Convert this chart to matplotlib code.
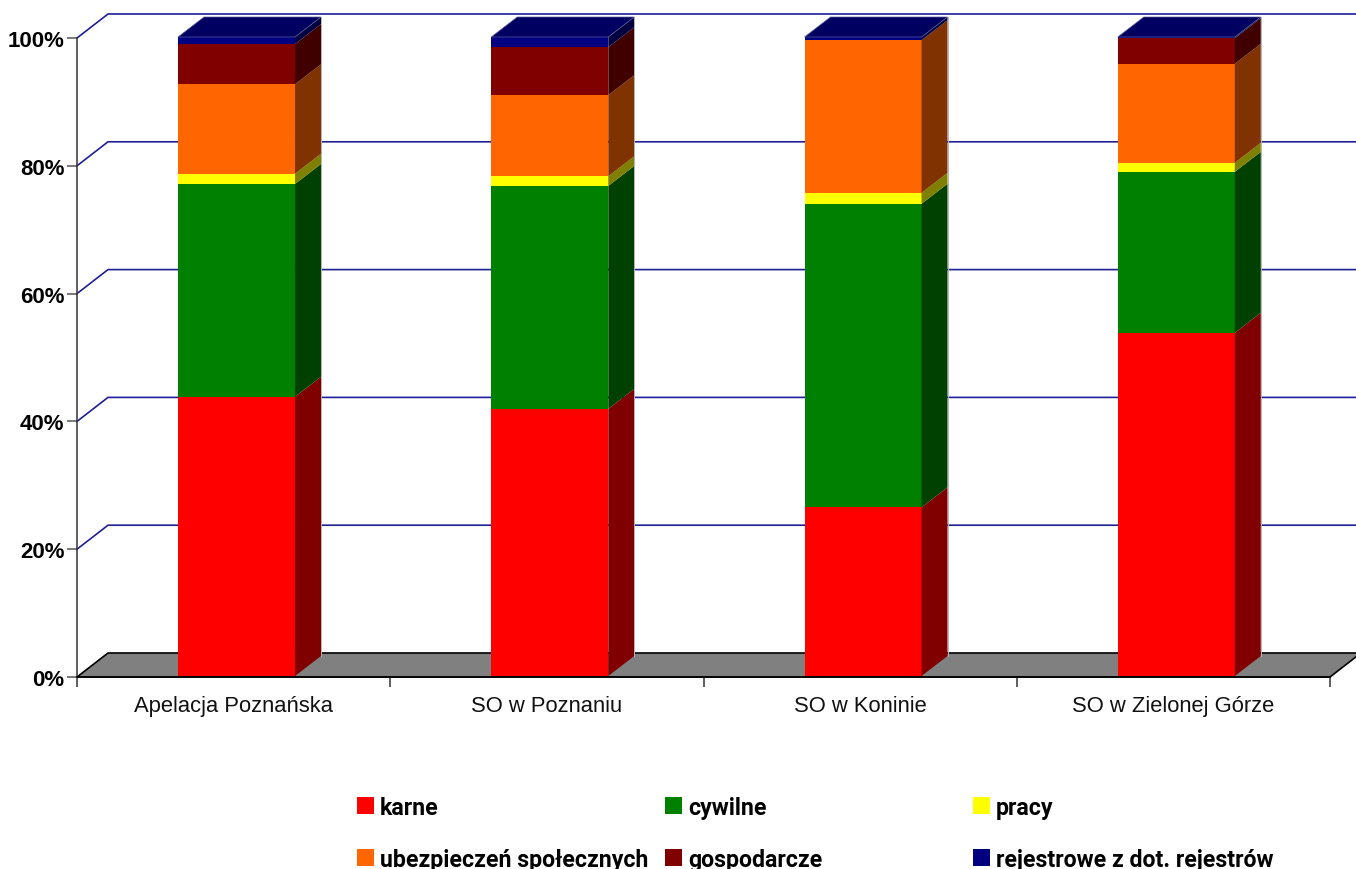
import matplotlib
matplotlib.use('Agg')
import matplotlib.pyplot as plt
import numpy as np
from matplotlib.patches import Polygon, Rectangle

# values, percent share per court
categories = ['Apelacja Poznańska', 'SO w Poznaniu', 'SO w Koninie', 'SO w Zielonej Górze']
karne = [43.7, 41.8, 26.4, 53.7]
cywilne = [33.3, 34.9, 47.5, 25.2]
pracy = [1.6, 1.5, 1.7, 1.4]
ubezpieczen = [14.0, 12.7, 23.9, 15.5]
gospodarcze = [6.3, 7.5, 0.0, 4.0]
rejestrowe = [1.1, 1.6, 0.5, 0.2]

series_names = ['karne', 'cywilne', 'pracy', 'ubezpieczeń społecznych', 'gospodarcze',
                'rejestrowe z dot. rejestrów']
series_vals = [karne, cywilne, pracy, ubezpieczen, gospodarcze, rejestrowe]
front_cols = ['#ff0000', '#008000', '#ffff00', '#ff6600', '#800000', '#000080']
side_cols = ['#800000', '#004000', '#808000', '#803300', '#400000', '#000040']
y_ticks = [0, 20, 40, 60, 80, 100]

W, H = 1356, 870
LEFT, RIGHT, Y0, Y100 = 77, 1330, 678, 39
GRID_COL = '#1f1f96'
SANS = ['Liberation Sans']
LEG_FONT = ['Roboto', 'Liberation Sans']

fig = plt.figure(figsize=(W / 100, H / 100), dpi=100)
ax = fig.add_axes([LEFT / W, (H - Y0) / H, (RIGHT - LEFT) / W, (Y0 - Y100) / H])
ax.set_xlim(0, 4)
ax.set_ylim(0, 100)

# pixel -> data helpers for the fake 3D offsets
px_x = 4 / (RIGHT - LEFT)
px_y = 100 / (Y0 - Y100)
wall_dx, wall_dy = 31 * px_x, 24 * px_y
bar_dx, bar_dy = 26 * px_x, 20 * px_y
bar_w = 117 * px_x
bar_shift = 2.9 * px_x
bar_lift = 1 * px_y

# floor
ax.add_patch(Polygon([(0, 0), (wall_dx, wall_dy), (4 + wall_dx, wall_dy), (4, 0)],
                     closed=True, fc='#808080', ec='black', lw=1.2, clip_on=False, zorder=1))

# back wall grid
for v in y_ticks[1:]:
    ax.plot([0, wall_dx, 4 + wall_dx], [v, v + wall_dy, v + wall_dy], color=GRID_COL, lw=1.2,
            clip_on=False, zorder=1, solid_joinstyle='miter')

x_pos = np.arange(4) + 0.5 - bar_w / 2 + bar_shift
bottoms = np.full(4, bar_lift)
for vals, fc, sc in zip(series_vals, front_cols, side_cols):
    vals = np.array(vals)
    ax.bar(x_pos, vals, width=bar_w, bottom=bottoms, align='edge', color=fc, lw=0,
           clip_on=False, zorder=3)
    for x, b, v in zip(x_pos, bottoms, vals):
        xr = x + bar_w
        ax.add_patch(Polygon([(xr, b), (xr + bar_dx, b + bar_dy), (xr + bar_dx, b + v + bar_dy), (xr, b + v)],
                             closed=True, fc=sc, lw=0, clip_on=False, zorder=3))
    bottoms = bottoms + vals

# bar caps and the pale right edge of each bar
for x, b in zip(x_pos, bottoms):
    ax.add_patch(Polygon([(x, b), (x + bar_dx, b + bar_dy), (x + bar_w + bar_dx, b + bar_dy), (x + bar_w, b)],
                         closed=True, fc='#000060', ec='#5a5a9a', lw=0.5, clip_on=False, zorder=4))
    ax.plot([x + bar_w + bar_dx] * 2, [bar_lift + bar_dy, b + bar_dy], color='#b5b5b5', lw=0.7,
            clip_on=False, zorder=3)

for s in ['top', 'right']:
    ax.spines[s].set_visible(False)
ax.spines['left'].set_color('#333333')
ax.spines['left'].set_linewidth(1.1)
ax.spines['bottom'].set_color('black')
ax.spines['bottom'].set_linewidth(1.1)
ax.set_zorder(2)
ax.patch.set_visible(False)

ax.set_yticks(y_ticks)
ax.set_yticklabels([f'{v}%' for v in y_ticks], family=SANS, fontweight='bold', fontsize=16)
ax.tick_params(axis='y', length=7, width=1.1, color='#555555', pad=2)
ax.set_xticks(range(5))
ax.set_xticklabels([])
ax.tick_params(axis='x', which='major', length=7.5, width=1.1, color='#333333')
ax.set_xticks(np.arange(4) + 0.5, minor=True)
ax.set_xticklabels(categories, minor=True, family=SANS, fontsize=15.8, color='#111111')
ax.tick_params(axis='x', which='minor', length=0, pad=13)

# legend, fixed column grid like the original
leg_x = [357, 665, 973]
leg_y = [807, 859]
for i, (name, fc) in enumerate(zip(series_names, front_cols)):
    px, py = leg_x[i % 3], leg_y[i // 3]
    fig.add_artist(Rectangle((px / W, 1 - (py + 8) / H), 17 / W, 17 / H, transform=fig.transFigure,
                             fc=fc, lw=0))
    fig.text((px + 23) / W, 1 - (py + 2) / H, name, family=LEG_FONT, fontweight='bold', fontsize=16.7,
             va='center', ha='left', color='black')

plt.savefig('out.png', dpi=100)
plt.close()
